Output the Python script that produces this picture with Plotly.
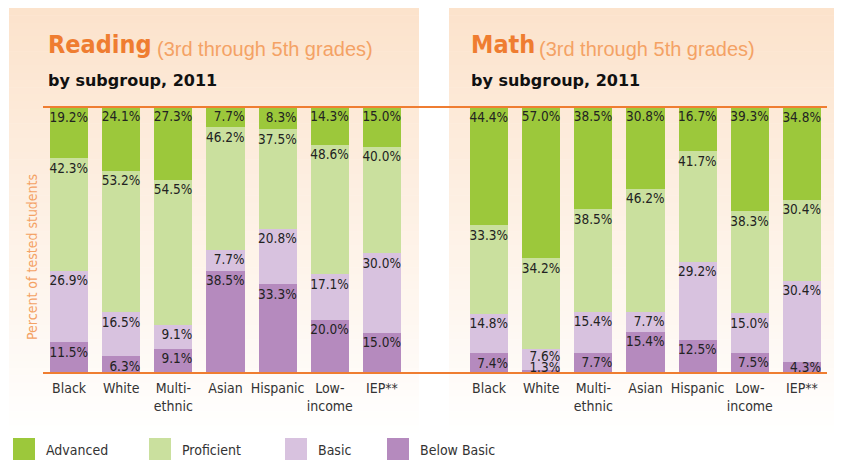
import plotly.graph_objects as go

# The page body has an 8px margin, so the figure is sized to fill the rest of the window.
OFF = 8
W, H = 842 - OFF, 460 - OFF

# ---------------- data ----------------
groups = ["Black", "White", "Multi-<br>ethnic", "Asian", "Hispanic", "Low-<br>income", "IEP**"]
levels = ["Below Basic", "Basic", "Proficient", "Advanced"]  # stacked bottom -> top
legend_order = ["Advanced", "Proficient", "Basic", "Below Basic"]

reading_advanced = [19.2, 24.1, 27.3, 7.7, 8.3, 14.3, 15.0]
reading_proficient = [42.3, 53.2, 54.5, 46.2, 37.5, 48.6, 40.0]
reading_basic = [26.9, 16.5, 9.1, 7.7, 20.8, 17.1, 30.0]
reading_below = [11.5, 6.3, 9.1, 38.5, 33.3, 20.0, 15.0]

math_advanced = [44.4, 57.0, 38.5, 30.8, 16.7, 39.3, 34.8]
math_proficient = [33.3, 34.2, 38.5, 46.2, 41.7, 38.3, 30.4]
math_basic = [14.8, 7.6, 15.4, 7.7, 29.2, 15.0, 30.4]
math_below = [7.4, 1.3, 7.7, 15.4, 12.5, 7.5, 4.3]

# ---------------- style ----------------
colors = {"Advanced": "#9CC83B", "Proficient": "#CAE09E",
          "Basic": "#D8C2DF", "Below Basic": "#B58ABE"}
ORANGE = "#EF7D31"
LIGHT_ORANGE = "#F4A265"
COND = "DejaVu Sans Condensed, Liberation Sans, Arial, sans-serif"
BAR_W = 0.73
LABEL_DROP = 1.6   # label sits a little below the segment top (in % units)
LABEL_H = 4.1      # height of one value label (in % units)
LABEL_MIN = 4.3    # lowest allowed label anchor so the text stays above the axis


def px(x):
    return (x - OFF) / W


def py(y):
    return 1 - (y - OFF) / H


panels = [
    dict(name="Reading", xa="x", ya="y",
         data={"Advanced": reading_advanced, "Proficient": reading_proficient,
               "Basic": reading_basic, "Below Basic": reading_below}),
    dict(name="Math", xa="x2", ya="y2",
         data={"Advanced": math_advanced, "Proficient": math_proficient,
               "Basic": math_basic, "Below Basic": math_below}),
]

fig = go.Figure()
xs = list(range(len(groups)))

for p in panels:
    cum = [0.0] * len(groups)
    prev_anchor = [LABEL_MIN - LABEL_H] * len(groups)
    for lev in levels:
        vals = p["data"][lev]
        fig.add_trace(go.Bar(
            x=xs, y=vals, xaxis=p["xa"], yaxis=p["ya"], width=BAR_W,
            marker=dict(color=colors[lev], line=dict(width=0)),
            showlegend=False, hoverinfo="skip",
        ))
        cum = [c + v for c, v in zip(cum, vals)]
        anchors = [max(c - LABEL_DROP, pa + LABEL_H) for c, pa in zip(cum, prev_anchor)]
        prev_anchor = anchors
        fig.add_trace(go.Scatter(
            x=[i + BAR_W / 2 for i in xs], y=anchors,
            xaxis=p["xa"], yaxis=p["ya"],
            mode="text", text=[f"{v:.1f}%" for v in vals],
            textposition="bottom left",
            textfont=dict(family=COND, size=13.5, color="#222222"),
            showlegend=False, hoverinfo="skip", cliponaxis=False,
        ))

axis_common = dict(range=[-0.5, len(groups) - 0.5], tickvals=xs, ticktext=groups,
                   tickangle=0, showgrid=False, zeroline=False, showline=False,
                   ticks="", ticklabelstandoff=5,
                   tickfont=dict(family=COND, size=14, color="#333333"),
                   fixedrange=True)
yaxis_common = dict(range=[0, 100], domain=[py(373), py(107)], visible=False,
                    fixedrange=True)

fig.update_layout(
    width=W, height=H, margin=dict(l=0, r=0, t=0, b=0),
    paper_bgcolor="white", plot_bgcolor="rgba(0,0,0,0)",
    barmode="stack", bargap=0, showlegend=False, hovermode=False,
    xaxis=dict(domain=[px(43), px(408)], anchor="y", **axis_common),
    xaxis2=dict(domain=[px(463), px(828)], anchor="y2", **axis_common),
    yaxis=dict(anchor="x", **yaxis_common),
    yaxis2=dict(anchor="x2", **yaxis_common),
)

shapes = []
# panel background gradients
N = 60
top, bot = 8, 440
c0 = (252, 227, 204)
c1 = (255, 255, 255)
for (x0, x1) in [(9, 419), (449, 841)]:
    for k in range(N):
        t = k / (N - 1)
        c = tuple(round(a + (b - a) * t) for a, b in zip(c0, c1))
        ya = top + (bot - top) * k / N
        yb = top + (bot - top) * (k + 1) / N + 0.5
        shapes.append(dict(type="rect", xref="paper", yref="paper",
                           x0=px(x0), x1=px(x1), y0=py(ya), y1=py(yb),
                           fillcolor=f"rgb{c}", line=dict(width=0), layer="below"))
# orange rules
for yy in (107, 373):
    shapes.append(dict(type="line", xref="paper", yref="paper",
                       x0=px(43), x1=px(827), y0=py(yy), y1=py(yy),
                       line=dict(color=ORANGE, width=2), layer="above"))

annotations = []
for p, x_title, x_sub in [(panels[0], 48, 157), (panels[1], 471, 539)]:
    annotations.append(dict(text=f"<b>{p['name']}</b>", xref="paper", yref="paper",
                            x=px(x_title - 2), y=py(44), xanchor="left", yanchor="middle",
                            showarrow=False,
                            font=dict(family=COND, size=25, color=ORANGE)))
    annotations.append(dict(text="(3rd through 5th grades)", xref="paper", yref="paper",
                            x=px(x_sub - 2), y=py(49), xanchor="left", yanchor="middle",
                            showarrow=False,
                            font=dict(family="Liberation Sans, Arial, sans-serif",
                                      size=20, color=LIGHT_ORANGE)))
    annotations.append(dict(text="<b>by subgroup, 2011</b>", xref="paper", yref="paper",
                            x=px(x_title - 2), y=py(81), xanchor="left", yanchor="middle",
                            showarrow=False,
                            font=dict(family="DejaVu Sans, sans-serif", size=16,
                                      color="#111111")))

annotations.append(dict(text="Percent of tested students", xref="paper", yref="paper",
                        x=px(32), y=py(257), xanchor="center", yanchor="middle",
                        textangle=-90, showarrow=False,
                        font=dict(family=COND, size=14, color=LIGHT_ORANGE)))

# legend (custom, large swatches)
legend_sq_x = [13, 149, 285, 387]
for name, sx in zip(legend_order, legend_sq_x):
    shapes.append(dict(type="rect", xref="paper", yref="paper",
                       x0=px(sx), x1=px(sx + 22), y0=py(438), y1=py(462),
                       fillcolor=colors[name], line=dict(width=0)))
    annotations.append(dict(text=name, xref="paper", yref="paper",
                            x=px(sx + 31), y=py(450), xanchor="left", yanchor="middle",
                            showarrow=False,
                            font=dict(family=COND, size=14, color="#333333")))

fig.update_layout(shapes=shapes, annotations=annotations)
fig.write_html("out.html")
